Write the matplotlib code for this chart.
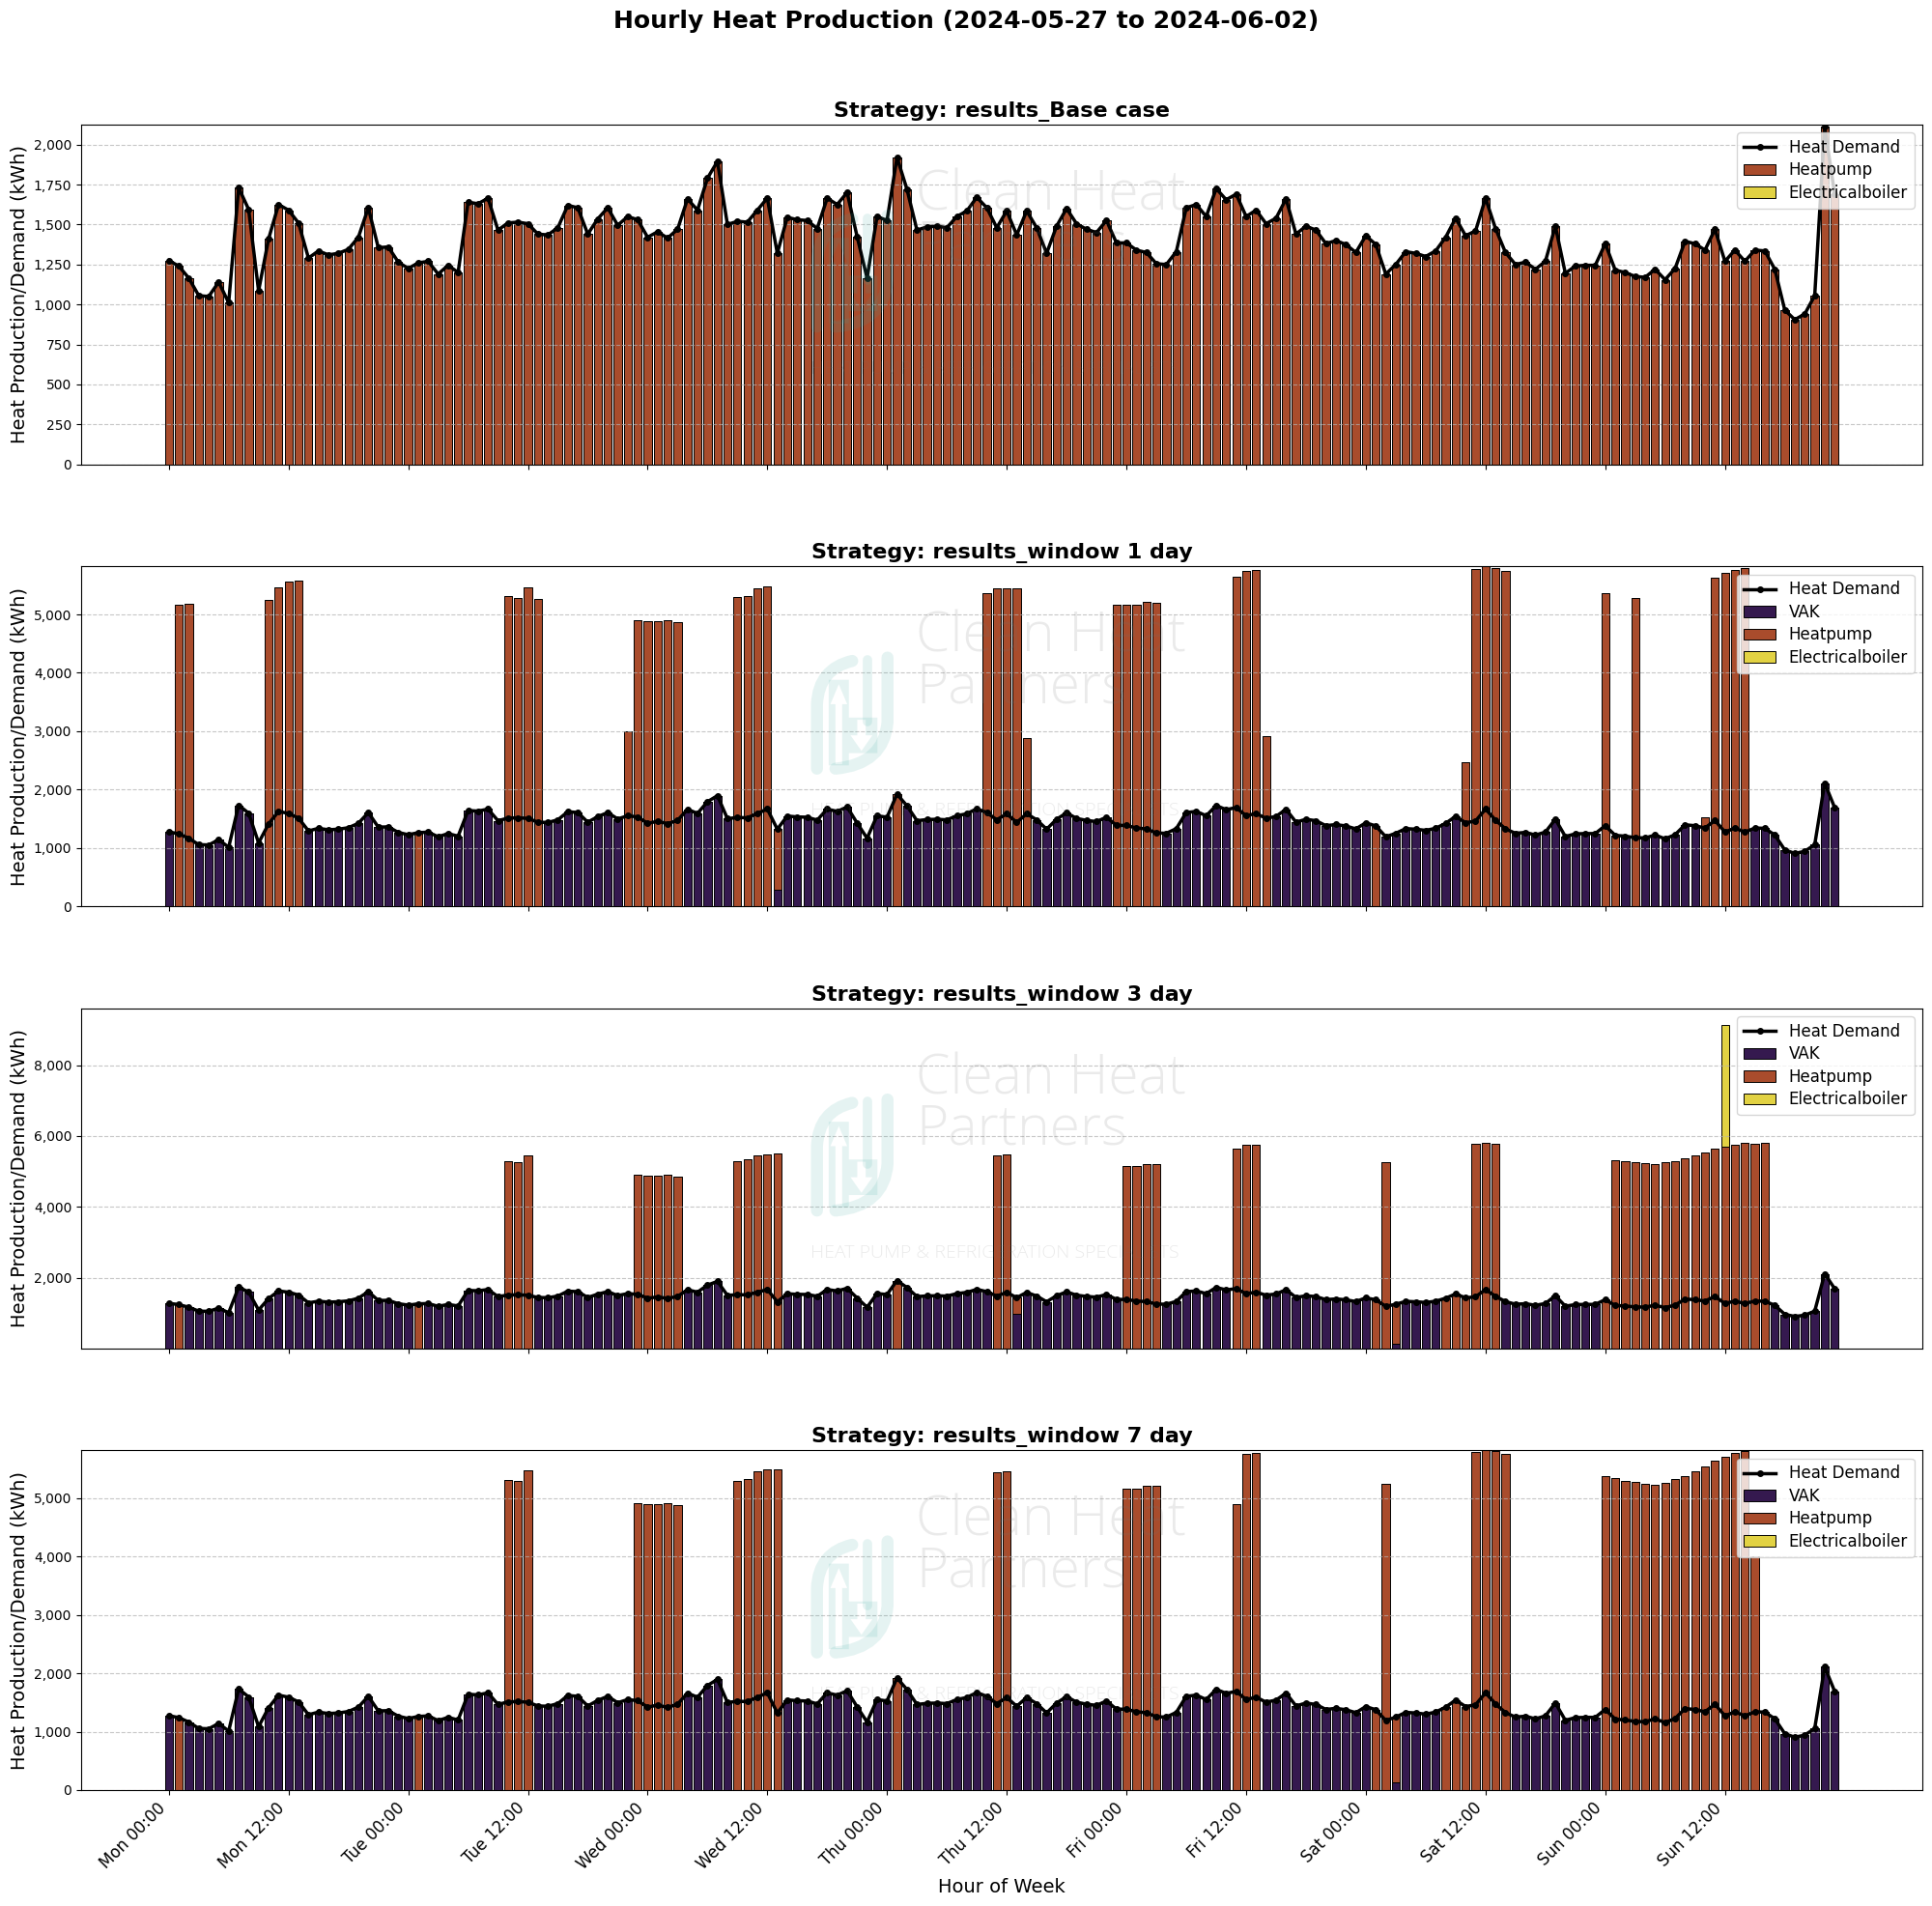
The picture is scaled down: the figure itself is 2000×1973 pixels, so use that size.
#!/usr/bin/env python3
# -*- coding: utf-8 -*-
import numpy as np
import matplotlib
matplotlib.use("Agg")
import matplotlib.pyplot as plt
from matplotlib.path import Path
from matplotlib.patches import PathPatch
from matplotlib.ticker import FuncFormatter

# hourly heat demand, kWh, Monday 00:00 onwards
demand = [
    1275, 1240, 1165, 1055, 1050, 1140, 1010, 1730, 1595, 1085, 1410, 1625,
    1590, 1510, 1290, 1335, 1310, 1320, 1345, 1420, 1605, 1355, 1360, 1265,
    1225, 1260, 1270, 1190, 1245, 1200, 1640, 1630, 1665, 1465, 1510, 1515,
    1505, 1440, 1435, 1480, 1620, 1605, 1440, 1535, 1605, 1495, 1550, 1530,
    1420, 1455, 1415, 1470, 1660, 1590, 1790, 1895, 1500, 1520, 1515, 1590,
    1665, 1320, 1545, 1530, 1525, 1475, 1665, 1625, 1700, 1425, 1165, 1550,
    1525, 1920, 1720, 1465, 1485, 1490, 1480, 1550, 1585, 1670, 1605, 1480,
    1585, 1435, 1585, 1480, 1320, 1490, 1600, 1505, 1470, 1450, 1525, 1385,
    1385, 1340, 1325, 1255, 1250, 1330, 1605, 1625, 1550, 1725, 1655, 1690,
    1550, 1590, 1505, 1540, 1660, 1440, 1490, 1465, 1380, 1400, 1375, 1325,
    1430, 1375, 1190, 1250, 1330, 1320, 1300, 1335, 1420, 1540, 1430, 1460,
    1665, 1475, 1325, 1250, 1265, 1220, 1270, 1490, 1195, 1240, 1245, 1245,
    1380, 1215, 1200, 1175, 1170, 1220, 1155, 1225, 1395, 1380, 1340, 1470,
    1270, 1340, 1270, 1340, 1335, 1220, 965, 905, 940, 1055, 2110, 1690,
]

# heat pump output by hour, every other hour is covered by the VAK
heatpump_1day = {
    1: 5165, 2: 5180, 10: 5250, 11: 5470, 12: 5555, 13: 5580, 25: 1260,
    34: 5310, 35: 5280, 36: 5460, 37: 5270, 46: 2990, 47: 4905, 48: 4885,
    49: 4880, 50: 4900, 51: 4875, 57: 5290, 58: 5320, 59: 5455, 60: 5485,
    61: 1030, 73: 1920, 82: 5370, 83: 5440, 84: 5455, 85: 5445, 86: 2875,
    95: 5160, 96: 5160, 97: 5160, 98: 5215, 99: 5205, 107: 5645, 108: 5750,
    109: 5765, 110: 2915, 121: 1375, 130: 2465, 131: 5780, 132: 5830,
    133: 5800, 134: 5750, 144: 5370, 145: 1215, 147: 5280, 154: 1525,
    155: 5630, 156: 5705, 157: 5765, 158: 5800,
}
heatpump_3day = {
    1: 1240, 25: 1260, 34: 5300, 35: 5270, 36: 5460, 47: 4900, 48: 4880,
    49: 4880, 50: 4900, 51: 4865, 57: 5290, 58: 5330, 59: 5460, 60: 5490,
    61: 5500, 73: 1920, 83: 5445, 84: 5470, 85: 465, 96: 5160, 97: 5160,
    98: 5210, 99: 5210, 107: 5645, 108: 5745, 109: 5765, 121: 1375, 122: 5255,
    123: 1123, 128: 1420, 129: 1540, 130: 1430, 131: 5780, 132: 5810,
    133: 5790, 144: 1380, 145: 5325, 146: 5290, 147: 5270, 148: 5245,
    149: 5220, 150: 5255, 151: 5300, 152: 5375, 153: 5445, 154: 5545,
    155: 5635, 156: 5690, 157: 5765, 158: 5800, 159: 5780, 160: 5820,
}
heatpump_7day = {
    1: 1240, 25: 1260, 34: 5310, 35: 5285, 36: 5470, 47: 4910, 48: 4895,
    49: 4890, 50: 4905, 51: 4880, 57: 5300, 58: 5325, 59: 5465, 60: 5485,
    61: 5495, 73: 1920, 83: 5445, 84: 5465, 96: 5165, 97: 5165, 98: 5215,
    99: 5210, 107: 4900, 108: 5755, 109: 5770, 121: 1375, 122: 5250,
    123: 1123, 128: 1420, 129: 1540, 130: 1430, 131: 5790, 132: 5840,
    133: 5805, 134: 5755, 144: 5370, 145: 5335, 146: 5300, 147: 5280,
    148: 5250, 149: 5220, 150: 5265, 151: 5320, 152: 5375, 153: 5450,
    154: 5545, 155: 5640, 156: 5705, 157: 5770, 158: 5805, 159: 4000,
    160: 1335,
}
boiler_3day = {156: 3445}

strategies = ["results_Base case", "results_window 1 day", "results_window 3 day", "results_window 7 day"]
ylims = [(0, 2125), (0, 5820), (10, 9600), (0, 5815)]
tick_labels = ["Mon 00:00", "Mon 12:00", "Tue 00:00", "Tue 12:00", "Wed 00:00", "Wed 12:00", "Thu 00:00",
               "Thu 12:00", "Fri 00:00", "Fri 12:00", "Sat 00:00", "Sat 12:00", "Sun 00:00", "Sun 12:00"]

COL_VAK = "#35194f"
COL_HP = "#a94c2c"
COL_EB = "#e2d243"


def hourly(sparse):
    out = np.zeros(len(demand))
    for hour, val in sparse.items():
        out[hour] = val
    return out


def watermark(ax):
    # logo + company name, sits on top of the bars
    tr = ax.transAxes
    teal = "#3aa89f"
    wm_alpha = 0.13
    # logo box in axes fractions
    x0, y0, w, h = 0.396, 0.405, 0.0456, 0.327

    def box(pts):
        return [(x0 + u * w, y0 + v * h) for u, v in pts]

    strokes = [
        ([(0.08, 0.0), (0.08, 0.58), (0.10, 0.90), (0.50, 0.97)],
         [Path.MOVETO, Path.LINETO, Path.CURVE3, Path.CURVE3], 9),
        ([(0.92, 1.0), (0.92, 0.42), (0.88, 0.04), (0.30, 0.0)],
         [Path.MOVETO, Path.LINETO, Path.CURVE3, Path.CURVE3], 9),
        ([(0.68, 0.98), (0.68, 0.42)], [Path.MOVETO, Path.LINETO], 7),
    ]
    for pts, codes, lw in strokes:
        ax.add_patch(PathPatch(Path(box(pts), codes), fill=False, edgecolor=teal, lw=lw, alpha=wm_alpha,
                               transform=tr, zorder=6, capstyle="round"))

    # pale blocks with the two arrows cut out of them
    up_block = [(0.22, 0.03), (0.46, 0.03), (0.46, 0.80), (0.22, 0.80), (0.22, 0.03)]
    up_arrow = [(0.30, 0.04), (0.30, 0.58), (0.24, 0.58), (0.34, 0.76), (0.44, 0.58), (0.38, 0.58), (0.38, 0.04), (0.30, 0.04)]
    down_block = [(0.46, 0.14), (0.80, 0.14), (0.80, 0.46), (0.46, 0.46), (0.46, 0.14)]
    down_arrow = [(0.56, 0.44), (0.66, 0.44), (0.66, 0.30), (0.74, 0.30), (0.61, 0.16), (0.48, 0.30), (0.56, 0.30), (0.56, 0.44)]
    for block, arrow in ((up_block, up_arrow), (down_block, down_arrow)):
        verts = box(block) + box(arrow)
        codes = ([Path.MOVETO] + [Path.LINETO] * (len(block) - 2) + [Path.CLOSEPOLY]
                 + [Path.MOVETO] + [Path.LINETO] * (len(arrow) - 2) + [Path.CLOSEPOLY])
        ax.add_patch(PathPatch(Path(verts, codes), facecolor=teal, edgecolor="none", alpha=wm_alpha,
                               transform=tr, zorder=6))

    ax.text(0.4535, 0.60, "Clean Heat\nPartners", transform=tr, family="Open Sans", fontweight=300, fontsize=41,
            linespacing=0.88, color="#707070", alpha=0.14, zorder=6, va="baseline", ha="left")
    ax.text(0.396, 0.267, "HEAT PUMP & REFRIGERATION SPECIALISTS", transform=tr, family="Open Sans", fontweight=300,
            fontsize=14, color="#707070", alpha=0.14, zorder=6, va="baseline", ha="left")


def main():
    fig, axes = plt.subplots(4, 1, figsize=(20, 19.73), dpi=100, sharex=True)
    fig.subplots_adjust(left=0.042, right=0.995, top=1 - 129 / 1973, bottom=1 - 1853 / 1973, hspace=0.301)

    hours = np.arange(len(demand))
    dem = np.array(demand, dtype=float)
    runs = [
        (np.zeros(len(demand)), dem, np.zeros(len(demand))),
        (None, hourly(heatpump_1day), np.zeros(len(demand))),
        (None, hourly(heatpump_3day), hourly(boiler_3day)),
        (None, hourly(heatpump_7day), np.zeros(len(demand))),
    ]

    for ax, name, ylim, (vak, hp, eb) in zip(axes, strategies, ylims, runs):
        if vak is None:
            vak = np.clip(dem - hp, 0, None)
        ax.bar(hours, vak, width=0.8, color=COL_VAK, edgecolor="black", linewidth=0.7, label="VAK" if name != strategies[0] else "_nolegend_")
        ax.bar(hours, hp, width=0.8, bottom=vak, color=COL_HP, edgecolor="black", linewidth=0.7, label="Heatpump")
        ax.bar(hours, eb, width=0.8, bottom=vak + hp, color=COL_EB, edgecolor="black", linewidth=0.7, label="Electricalboiler")
        ax.plot(hours, dem, color="black", linewidth=2.5, marker="o", markersize=4, label="Heat Demand", zorder=5)
        ax.set_title("Strategy: " + name, fontsize=16, fontweight="bold")
        ax.set_ylabel("Heat Production/Demand (kWh)", fontsize=14)
        ax.set_ylim(*ylim)
        ax.yaxis.set_major_formatter(FuncFormatter(lambda v, _: f"{v:,.0f}"))
        ax.grid(axis="y", linestyle="--", alpha=0.7)
        ax.legend(loc="upper right", fontsize=12, labelspacing=0.33)
        watermark(ax)

    axes[-1].set_xticks(hours[::12])
    axes[-1].set_xticklabels(tick_labels, rotation=45, ha="right", fontsize=12)
    axes[-1].set_xlabel("Hour of Week", fontsize=14)
    fig.suptitle("Hourly Heat Production (2024-05-27 to 2024-06-02)", fontsize=18, fontweight="bold", y=1 - 22 / 1973, va="center")
    fig.savefig("out.png", dpi=100)


if __name__ == "__main__":
    main()
